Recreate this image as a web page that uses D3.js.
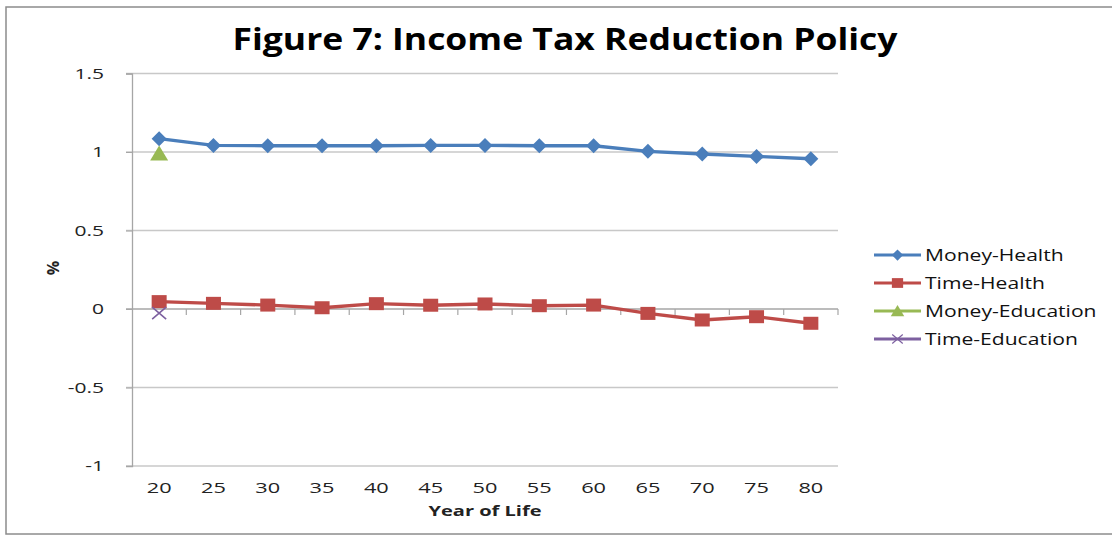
<!DOCTYPE html>
<html>
<head>
<meta charset="utf-8">
<script src="https://cdn.jsdelivr.net/npm/d3@7"></script>
<style>
  body { margin: 0; background: #fff; }
  svg { display: block; font-family: "Open Sans", "DejaVu Sans", sans-serif; }
</style>
</head>
<body>
<div class="chart"></div>
<script>
const W = 1112;
const H = 535;

// Chart data
const years = [20, 25, 30, 35, 40, 45, 50, 55, 60, 65, 70, 75, 80];
const moneyHealth = [1.085, 1.042, 1.04, 1.04, 1.04, 1.042, 1.042, 1.04, 1.04, 1.004, 0.987, 0.972, 0.957];
const timeHealth = [0.047, 0.036, 0.025, 0.008, 0.034, 0.024, 0.032, 0.021, 0.025, -0.028, -0.07, -0.049, -0.091];
const moneyEducation = [0.99];
const timeEducation = [-0.026];
const yTicks = [-1, -0.5, 0, 0.5, 1, 1.5];

const series = [
  { name: "Money-Health", values: moneyHealth, color: "#4a7ebb", marker: "diamond" },
  { name: "Time-Health", values: timeHealth, color: "#be4b48", marker: "square" },
  { name: "Money-Education", values: moneyEducation, color: "#98b954", marker: "triangle" },
  { name: "Time-Education", values: timeEducation, color: "#7d60a0", marker: "cross" },
];

const plot = { left: 132, right: 838, top: 73.5, bottom: 466 };

// the picture's text is wide, so stretch glyphs horizontally
function stretch(sel, k) {
  sel.each(function () {
    const len = this.getComputedTextLength();
    d3.select(this).attr("textLength", len * k).attr("lengthAdjust", "spacingAndGlyphs");
  });
}

const svg = d3.select(".chart").append("svg")
  .attr("width", W)
  .attr("height", H);

// outer frame
svg.append("rect")
  .attr("x", 6).attr("y", 7)
  .attr("width", W + 20).attr("height", H - 8)
  .attr("fill", "#fff")
  .attr("stroke", "#8c8c8c")
  .attr("stroke-width", 1.5);

const x = d3.scaleBand().domain(years).range([plot.left, plot.right]);
const y = d3.scaleLinear().domain([-1, 1.5]).range([plot.bottom, plot.top]);

// gridlines
svg.append("g")
  .selectAll("line")
  .data(yTicks)
  .join("line")
  .attr("x1", plot.left - 6)
  .attr("x2", plot.right)
  .attr("y1", d => y(d))
  .attr("y2", d => y(d))
  .attr("stroke", d => d === 0 ? "#a6a6a6" : "#c8c8c8")
  .attr("stroke-width", 1.3);

// y axis
const yAxis = svg.append("g")
  .attr("transform", `translate(${plot.left},0)`)
  .call(d3.axisLeft(y).tickValues(yTicks).tickFormat(d => String(d)).tickSize(6).tickPadding(22));
yAxis.select(".domain").attr("stroke", "#a6a6a6").attr("stroke-width", 1.3);
yAxis.selectAll(".tick line").attr("stroke", "#a6a6a6");
yAxis.selectAll("text")
  .attr("font-size", 15)
  .attr("fill", "#222")
  .attr("font-family", "Open Sans, sans-serif")
  .call(stretch, 1.4);

// tick marks on the zero line, at band edges
svg.append("g")
  .selectAll("line")
  .data(years.slice(1).concat(["end"]))
  .join("line")
  .attr("x1", d => d === "end" ? plot.right : x(d))
  .attr("x2", d => d === "end" ? plot.right : x(d))
  .attr("y1", y(0))
  .attr("y2", y(0) + 6)
  .attr("stroke", "#a6a6a6")
  .attr("stroke-width", 1.2);

// x labels along the bottom
svg.append("g")
  .selectAll("text")
  .data(years)
  .join("text")
  .attr("x", d => x(d) + x.bandwidth() / 2)
  .attr("y", 493)
  .attr("text-anchor", "middle")
  .attr("font-size", 15)
  .attr("fill", "#222")
  .text(d => d)
  .call(stretch, 1.45);

// title
svg.append("text")
  .attr("x", 565)
  .attr("y", 50)
  .attr("text-anchor", "middle")
  .attr("font-size", 31)
  .attr("font-weight", "bold")
  .attr("textLength", 665)
  .attr("lengthAdjust", "spacingAndGlyphs")
  .attr("fill", "#000")
  .text("Figure 7: Income Tax Reduction Policy");

// axis titles
svg.append("text")
  .attr("x", 485)
  .attr("y", 516)
  .attr("text-anchor", "middle")
  .attr("font-size", 14.5)
  .attr("font-weight", "bold")
  .attr("fill", "#222")
  .text("Year of Life")
  .call(stretch, 1.38);

svg.append("text")
  .attr("transform", "translate(59,268) rotate(-90)")
  .attr("text-anchor", "middle")
  .attr("font-size", 16)
  .attr("font-weight", "bold")
  .attr("fill", "#222")
  .text("%");

const cx = i => x(years[i]) + x.bandwidth() / 2;

function drawMarker(g, type, color) {
  if (type === "diamond") {
    g.append("path").attr("d", "M0,-7.5L7.5,0L0,7.5L-7.5,0Z").attr("fill", color);
  } else if (type === "square") {
    g.append("rect").attr("x", -7.5).attr("y", -6.5).attr("width", 15).attr("height", 13).attr("fill", color);
  } else if (type === "triangle") {
    g.append("path").attr("d", "M0,-8L9,7L-9,7Z").attr("fill", color);
  } else if (type === "cross") {
    g.append("path").attr("d", "M-7,-6L7,6M-7,6L7,-6").attr("stroke", color).attr("stroke-width", 1.6);
  }
}

const line = d3.line().x((d, i) => cx(i)).y(d => y(d));

series.forEach(s => {
  const g = svg.append("g");
  g.append("path")
    .datum(s.values)
    .attr("d", line)
    .attr("fill", "none")
    .attr("stroke", s.color)
    .attr("stroke-width", 3.4)
    .attr("stroke-linejoin", "round");
  s.values.forEach((v, i) => {
    const m = g.append("g").attr("transform", `translate(${cx(i)},${y(v)})`);
    drawMarker(m, s.marker, s.color);
  });
});

// legend
const legend = svg.append("g").attr("transform", "translate(874,255)");
series.forEach((s, i) => {
  const row = legend.append("g").attr("transform", `translate(0,${i * 28})`);
  row.append("line")
    .attr("x1", 0).attr("x2", 47)
    .attr("stroke", s.color)
    .attr("stroke-width", 3);
  const m = row.append("g").attr("transform", "translate(23.5,0) scale(0.75)");
  drawMarker(m, s.marker, s.color);
  row.append("text")
    .attr("x", 51)
    .attr("y", 5.5)
    .attr("font-size", 15.5)
    .attr("fill", "#111")
    .text(s.name)
    .call(stretch, 1.36);
});
</script>
</body>
</html>
